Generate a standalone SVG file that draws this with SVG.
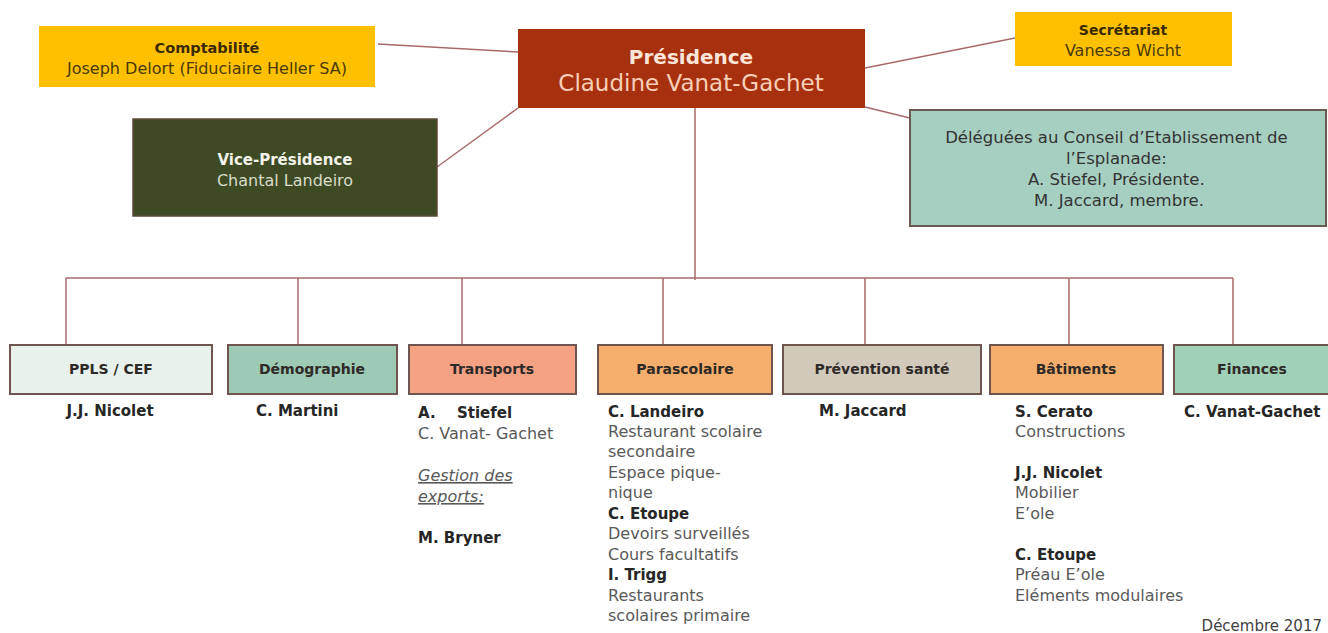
<svg xmlns="http://www.w3.org/2000/svg" width="1328" height="633" viewBox="0 0 1328 633">
<style>
text{font-family:"DejaVu Sans","Liberation Sans",sans-serif;}
.b{font-weight:bold;}
.c{text-anchor:middle;}
.box{stroke:#6e5550;stroke-width:2;}
.ttl{font-size:14px;font-weight:bold;fill:#2e2a28;text-anchor:middle;}
.nm{font-size:15px;font-weight:bold;fill:#262626;}
.tx{font-size:16px;fill:#595959;}
.con{stroke:#a86a6a;stroke-width:1.5;fill:none;}
</style>
<rect width="1328" height="633" fill="#ffffff"/>
<g id="connectors">
<line class="con" x1="378" y1="44" x2="518" y2="52"/>
<line class="con" x1="437" y1="167" x2="518" y2="108"/>
<line class="con" x1="865" y1="68" x2="1015" y2="38"/>
<line class="con" x1="865" y1="107" x2="910" y2="118"/>
<line class="con" x1="695" y1="108" x2="695" y2="280"/>
<line class="con" x1="66" y1="278" x2="1233" y2="278"/>
<line class="con" x1="66" y1="278" x2="66" y2="345"/>
<line class="con" x1="298" y1="278" x2="298" y2="345"/>
<line class="con" x1="462" y1="278" x2="462" y2="345"/>
<line class="con" x1="663" y1="278" x2="663" y2="345"/>
<line class="con" x1="865" y1="278" x2="865" y2="345"/>
<line class="con" x1="1069" y1="278" x2="1069" y2="345"/>
<line class="con" x1="1233" y1="278" x2="1233" y2="345"/>
</g>
<g id="comptabilite">
<rect x="39" y="26" width="336" height="61" fill="#ffc000"/>
<text x="207" y="53" class="c b" font-size="14.5" fill="#3a2a00">Comptabilité</text>
<text x="207" y="74" class="c" font-size="16" fill="#4a3a05">Joseph Delort (Fiduciaire Heller SA)</text>
</g>
<g id="presidence">
<rect x="518" y="29" width="347" height="79" fill="#a7310f"/>
<text x="691" y="64" class="c b" font-size="20" fill="#fde6d8">Présidence</text>
<text x="691" y="91" class="c" font-size="23" fill="#f9cfb8">Claudine Vanat-Gachet</text>
</g>
<g id="secretariat">
<rect x="1015" y="12" width="217" height="54" fill="#ffc000"/>
<text x="1123" y="35" class="c b" font-size="14" fill="#3a2a00">Secrétariat</text>
<text x="1123" y="56" class="c" font-size="16" fill="#4a3a05">Vanessa Wicht</text>
</g>
<g id="vice-presidence">
<rect x="133" y="119" width="304" height="97" fill="#3e4a23" stroke="#5a4b3a" stroke-width="1.5"/>
<text x="285" y="165" class="c b" font-size="15" fill="#f2f2ea">Vice-Présidence</text>
<text x="285" y="186" class="c" font-size="16" fill="#d9dccb">Chantal Landeiro</text>
</g>
<g id="deleguees">
<rect x="910" y="110" width="416" height="116" fill="#a6cfc1" stroke="#6b5a50" stroke-width="2"/>
<text class="c" font-size="16.5" fill="#333333">
<tspan x="1119" y="143">Déléguées au Conseil d’Etablissement de</tspan>
<tspan x="1119" y="164">l’Esplanade:</tspan>
<tspan x="1119" y="185">A. Stiefel, Présidente.</tspan>
<tspan x="1119" y="206">M. Jaccard, membre.</tspan>
</text>
</g>
<g id="ppls">
<rect class="box" x="10" y="345" width="202" height="49" fill="#e9f1ed"/>
<text x="111" y="374" class="ttl">PPLS / CEF</text>
<text x="110" y="416" class="nm c">J.J. Nicolet</text>
</g>
<g id="demographie">
<rect class="box" x="228" y="345" width="169" height="49" fill="#9dc9b5"/>
<text x="312" y="374" class="ttl">Démographie</text>
<text x="256" y="416" class="nm">C. Martini</text>
</g>
<g id="transports">
<rect class="box" x="409" y="345" width="167" height="49" fill="#f4a184"/>
<text x="492" y="374" class="ttl">Transports</text>
<text x="418" y="418" class="nm">A.</text>
<text x="457" y="418" class="nm">Stiefel</text>
<text x="418" y="439" class="tx">C. Vanat- Gachet</text>
<text x="418" y="481" class="tx" font-style="italic" text-decoration="underline">Gestion des</text>
<text x="418" y="502" class="tx" font-style="italic" text-decoration="underline">exports:</text>
<text x="418" y="543" class="nm">M. Bryner</text>
</g>
<g id="parascolaire">
<rect class="box" x="598" y="345" width="174" height="49" fill="#f5ae6b"/>
<text x="685" y="374" class="ttl" fill="#3a1f0c">Parascolaire</text>
<text x="608" y="417" class="nm">C. Landeiro</text>
<text x="608" y="437" class="tx">Restaurant scolaire</text>
<text x="608" y="457" class="tx">secondaire</text>
<text x="608" y="478" class="tx">Espace pique-</text>
<text x="608" y="498" class="tx">nique</text>
<text x="608" y="519" class="nm">C. Etoupe</text>
<text x="608" y="539" class="tx">Devoirs surveillés</text>
<text x="608" y="560" class="tx">Cours facultatifs</text>
<text x="608" y="580" class="nm">I. Trigg</text>
<text x="608" y="601" class="tx">Restaurants</text>
<text x="608" y="621" class="tx">scolaires primaire</text>
</g>
<g id="prevention">
<rect class="box" x="783" y="345" width="198" height="49" fill="#d1c9ba"/>
<text x="882" y="374" class="ttl">Prévention santé</text>
<text x="819" y="416" class="nm">M. Jaccard</text>
</g>
<g id="batiments">
<rect class="box" x="990" y="345" width="173" height="49" fill="#f5ae6b"/>
<text x="1076" y="374" class="ttl" fill="#3a1f0c">Bâtiments</text>
<text x="1015" y="417" class="nm">S. Cerato</text>
<text x="1015" y="437" class="tx">Constructions</text>
<text x="1015" y="478" class="nm">J.J. Nicolet</text>
<text x="1015" y="498" class="tx">Mobilier</text>
<text x="1015" y="519" class="tx">E’ole</text>
<text x="1015" y="560" class="nm">C. Etoupe</text>
<text x="1015" y="580" class="tx">Préau E’ole</text>
<text x="1015" y="601" class="tx">Eléments modulaires</text>
</g>
<g id="finances">
<rect class="box" x="1174" y="345" width="160" height="49" fill="#a1d0b9"/>
<text x="1252" y="374" class="ttl">Finances</text>
<text x="1184" y="417" class="nm">C. Vanat-Gachet</text>
</g>
<text x="1322" y="631" font-size="15" fill="#404040" text-anchor="end">Décembre 2017</text>
</svg>
